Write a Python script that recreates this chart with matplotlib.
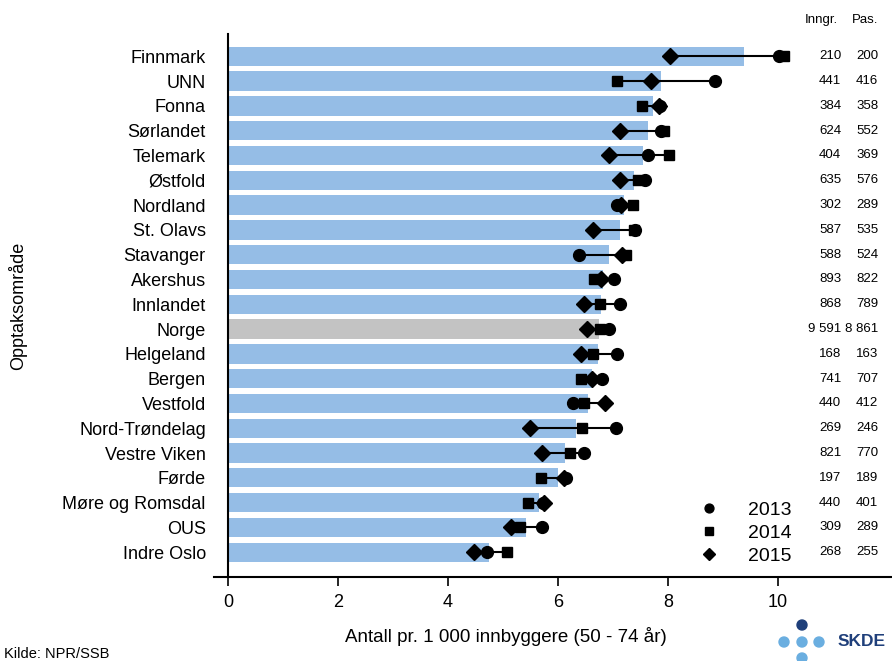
import numpy as np
import matplotlib.pyplot as plt
from matplotlib.patches import Ellipse

plt.rcParams['font.family'] = ['Liberation Sans', 'DejaVu Sans']

# data
omraader = ['Finnmark', 'UNN', 'Fonna', 'Sørlandet', 'Telemark', 'Østfold',
            'Nordland', 'St. Olavs', 'Stavanger', 'Akershus', 'Innlandet',
            'Norge', 'Helgeland', 'Bergen', 'Vestfold', 'Nord-Trøndelag',
            'Vestre Viken', 'Førde', 'Møre og Romsdal', 'OUS', 'Indre Oslo']
snitt = [9.38, 7.87, 7.73, 7.64, 7.54, 7.39, 7.20, 7.13, 6.93, 6.82, 6.79,
         6.74, 6.72, 6.61, 6.55, 6.32, 6.12, 6.00, 5.66, 5.41, 4.75]
rate_2013 = [10.02, 8.85, 7.85, 7.87, 7.64, 7.58, 7.08, 7.40, 6.39, 7.02, 7.13,
             6.93, 7.08, 6.80, 6.27, 7.05, 6.47, 6.14, 5.72, 5.70, 4.71]
rate_2014 = [10.10, 7.07, 7.52, 7.92, 8.01, 7.45, 7.37, 7.38, 7.23, 6.66, 6.76,
             6.76, 6.64, 6.41, 6.47, 6.43, 6.21, 5.69, 5.45, 5.30, 5.07]
rate_2015 = [8.03, 7.69, 7.84, 7.12, 6.93, 7.12, 7.15, 6.63, 7.17, 6.78, 6.47,
             6.53, 6.41, 6.61, 6.86, 5.49, 5.70, 6.10, 5.75, 5.14, 4.47]
inngrep = ['210', '441', '384', '624', '404', '635', '302', '587', '588', '893',
           '868', '9 591', '168', '741', '440', '269', '821', '197', '440',
           '309', '268']
pasienter = ['200', '416', '358', '552', '369', '576', '289', '535', '524',
             '822', '789', '8 861', '163', '707', '412', '246', '770', '189',
             '401', '289', '255']

W, H = 892, 661
fig = plt.figure(figsize=(W / 100, H / 100), dpi=100)
ax = fig.add_axes([228 / W, 1 - 577 / H, (W - 228) / W, (577 - 34) / H])

y = np.arange(len(omraader))
farger = ['#c3c3c3' if o == 'Norge' else '#95bde6' for o in omraader]
ax.barh(y, snitt, height=0.78, color=farger, zorder=1)

# linje mellom laveste og hoeyeste aar
alle = np.array([rate_2013, rate_2014, rate_2015])
ax.hlines(y, alle.min(axis=0), alle.max(axis=0), color='black', lw=1.5, zorder=2)

ax.plot(rate_2013, y, 'o', color='black', ms=8.5, ls='none', zorder=3, label='2013')
ax.plot(rate_2014, y, 's', color='black', ms=7.5, ls='none', zorder=3, label='2014')
ax.plot(rate_2015, y, 'D', color='black', ms=8, ls='none', zorder=4, label='2015')

ax.set_xlim(0, (W - 228) / 55.0)
ax.set_ylim(len(omraader) - 1 + 1.0, -0.9)
ax.set_xticks([0, 2, 4, 6, 8, 10])
ax.set_yticks(y)
ax.set_yticklabels(omraader, fontsize=13)
ax.tick_params(axis='y', length=0, pad=16)
ax.tick_params(axis='x', length=6.5, width=1.2, labelsize=13, pad=6)
for s in ['top', 'right']:
    ax.spines[s].set_visible(False)
ax.spines['left'].set_linewidth(1.5)
ax.spines['bottom'].set_linewidth(1.5)
# liten strek til venstre for nullpunktet
ax.plot([-0.25, 0], [len(omraader), len(omraader)], color='black', lw=1.5,
        clip_on=False)

ax.set_xlabel('Antall pr. 1 000 innbyggere (50 - 74 år)', fontsize=13.5)
ax.xaxis.set_label_coords((506 - 228) / (W - 228), -0.092)
ax.set_ylabel('Opptaksområde', fontsize=13)
ax.yaxis.set_label_coords(-0.303, 0.5)

# tabell til hoeyre
for i in y:
    ax.text(11.15, i, inngrep[i], ha='right', va='center', fontsize=9.5)
    ax.text(11.82, i, pasienter[i], ha='right', va='center', fontsize=9.5)
ax.text(10.78, -1.45, 'Inngr.', ha='center', va='center', fontsize=9.5, clip_on=False)
ax.text(11.58, -1.45, 'Pas.', ha='center', va='center', fontsize=9.5, clip_on=False)

ax.legend(loc='upper left', bbox_to_anchor=((699 - 228) / (W - 228), (577 - 501) / 543),
          frameon=False, fontsize=14, handletextpad=1.5, labelspacing=0.28,
          markerscale=0.75, handlelength=1.0, borderpad=0, borderaxespad=0)

fig.text(4 / W, 1 - 654 / H, 'Kilde: NPR/SSB', fontsize=10.5, va='center')

# SKDE-logo
lys = '#6aaee0'
mork = '#1f3f7a'
lx = [784, 802, 819, 802, 802]
ly = [642, 642, 642, 625, 658]
lc = [lys, lys, lys, mork, lys]
for px, py, c in zip(lx, ly, lc):
    fig.patches.append(Ellipse((px / W, 1 - py / H), 10 / W, 10 / H,
                               transform=fig.transFigure, color=c, figure=fig))
fig.text(838 / W, 1 - 642 / H, 'SKDE', fontsize=12.5, fontweight='bold',
         color=mork, va='center', ha='left')

fig.savefig('out.png', dpi=100)
